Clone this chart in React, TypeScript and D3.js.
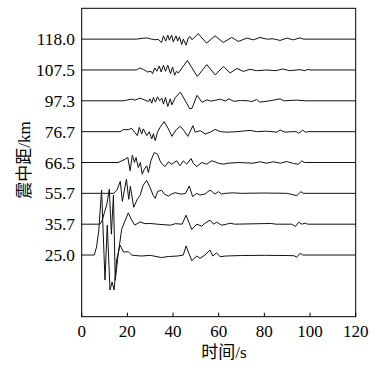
import React from "react";
import * as d3 from "d3";

// Epicentral distances (bottom to top), km
const distances = ["25.0", "35.7", "55.7", "66.5", "76.7", "97.3", "107.5", "118.0"];

// Waveforms: [time s, relative amplitude]
const trace250: [number, number][] = [[0,0],[5.5,0],[6.5,8],[7.5,25],[8.7,65],[10.2,-25],[11.2,30],[12.4,-35],[13.3,-27],[14.2,-35],[15.3,-5],[16.8,10],[18.3,3],[20.4,3.3],[21.9,0],[23.3,-0.5],[26.3,-1],[30,-0.3],[33,-1.7],[35,-2.5],[38,-1.5],[42,-1],[44.5,0],[45.7,9],[48.2,-5.7],[50.4,-1],[51.8,-3.3],[54,0],[56.2,5],[57.4,-1],[59.1,2.3],[60.6,-1.7],[63,-1],[70,-0.5],[80,-0.3],[90,-0.5],[93,-0.7],[94.2,-2.3],[95.6,1.7],[96.8,0],[120,0]];
const trace357: [number, number][] = [[0,0],[8,0],[9,4],[10,12],[11,20],[12.1,35],[13,-10],[13.9,29],[14.7,-56],[16,-30],[17.5,-5],[20.4,11.3],[21.9,4],[23.3,-1],[25.5,2.3],[27.7,0.5],[30,0.7],[33,0],[38.9,-1],[41,0.5],[44,0],[45.7,9],[48.2,-5.3],[50.4,0],[52.6,-2],[54,1],[56.2,4],[57.7,0],[59.1,2],[61.3,-1],[63.5,0],[65,1],[67,0],[83,0.7],[85,0],[92,0],[93.6,-2.3],[95,2],[96.4,0],[97.9,1],[99,0],[120,0]];
const trace557: [number, number][] = [[0,0],[14,0],[15.4,3],[16.9,12],[17.8,-8],[19.6,14],[20.6,-6],[21.3,7],[22.8,-14],[24.3,-6],[25.6,-2],[26.9,8],[28.4,13],[29.9,6],[31.3,-2],[32.2,-5],[33.3,2],[35,3],[36.3,-1],[38,-2.7],[39.5,-0.5],[41,0.7],[42.7,-0.5],[44,-0.7],[45.5,0],[47.1,7.3],[48.6,-3.3],[50.4,0],[51.8,-1.7],[54,-0.7],[56.2,3.3],[58.4,-0.7],[59.9,1.7],[61.3,-0.7],[63,0],[66,0.5],[70,0],[80,0.3],[90,0],[94.2,-2.3],[96,1.7],[97,0],[120,0]];
const trace665: [number, number][] = [[0,0],[15.9,0],[17.6,1.7],[19,3.3],[20.2,5],[21.2,-8.3],[22.2,7.3],[23.1,0],[23.8,5],[24.8,-5],[25.7,0],[26.5,-11.7],[27.4,-6.7],[28.5,-3.3],[29.2,-10],[30.3,1.7],[31.8,10],[33.2,8.3],[34.3,1.7],[35.3,-1.7],[36.5,-4],[38,0.7],[39.4,-1.7],[41.6,1.7],[43,-3.3],[44.5,1.7],[46,-1.7],[47.9,4],[48.9,-1],[50.4,-4],[52.6,0],[54.8,-1.7],[56.9,1.7],[58.4,0.7],[59.8,-0.7],[62,-1.7],[64.2,-0.7],[68.6,0],[75,-0.7],[78,0.7],[81,-0.7],[84,0.7],[87,-0.7],[89.8,1],[92.7,-1],[95,-1.7],[96.4,1.7],[97.5,0],[120,0]];
const trace767: [number, number][] = [[0,0],[16.8,0],[18.2,2],[20.4,2],[21.9,3.3],[23.3,-1],[24.4,-4],[25.2,4.3],[26.3,-2.3],[27,2.7],[28.5,-4],[29.6,0],[30.7,-7.3],[31.4,-2],[32.2,-9],[33.2,-0.5],[34.3,4.3],[36.1,10],[38,2.7],[39.5,-4.7],[41.4,2],[43.2,5.3],[45,0.5],[46.5,-4.7],[48.7,6],[49.7,-0.5],[51.9,1],[54.1,-2.3],[56.3,-0.5],[58.5,2.3],[60.7,0],[63.6,-0.5],[68,0],[73.7,1.3],[76.6,0],[81,0.5],[85.5,-0.5],[86.9,1.7],[89,-0.5],[92,0],[94,0],[95,-1.7],[96.8,1.5],[98,-0.5],[99.5,0],[120,0]];
const trace973: [number, number][] = [[0,0],[18.2,0],[19.7,0.7],[21.9,1.7],[23.3,0.7],[25.5,2.7],[27.7,0.7],[29.2,-0.7],[29.9,2],[30.7,-2.3],[31.4,3.3],[32.3,-1.3],[33.2,4],[34.1,0],[35.1,2.7],[35.8,-3.3],[36.7,3.3],[37.7,-5.7],[38.8,2],[39.5,-4],[41,3.3],[43.2,8.7],[45.4,0],[47.3,-8],[48.3,-7.5],[50.5,5.5],[52.7,-1.5],[54.9,1],[56.5,-0.3],[58.5,0.5],[60.7,1.7],[62.9,-0.3],[64.4,2],[66.6,-0.5],[69.5,0.3],[73,0],[74.5,-0.8],[76.6,1.3],[78,-1.3],[82.5,0],[86.9,2],[88.5,0],[94,0.7],[98,0],[120,0]];
const trace1075: [number, number][] = [[0,0],[24,0],[25.5,2],[27,0.5],[28.9,-2],[30.4,-1.3],[31,-3.7],[32,2],[32.9,-1.3],[34,4],[34.8,-2],[35.8,4.7],[36.7,-1.3],[37.7,4.7],[38.9,-3.7],[39.8,3],[40.7,-5.3],[41.5,-1.3],[42.3,-3],[46.3,9.5],[50.6,-6.5],[54.8,5.3],[58.5,-5],[62,3.5],[65,-3],[68,1.5],[70.8,-1.5],[73.7,0.7],[76.6,-0.7],[81,0],[85,-0.7],[88,1],[91,-0.7],[95.6,0.3],[97.7,-0.7],[99.2,0.7],[100,0],[120,0]];
const trace1180: [number, number][] = [[0,0],[24,0],[26.5,0.8],[28.5,1.2],[30.5,0],[32,-0.6],[33.5,-0.3],[35,-3.3],[35.8,3.3],[36.8,-2],[37.7,4],[38.4,-1],[39.4,4],[40.1,-2.7],[41.3,3.3],[42,-2],[42.8,2.3],[43.8,-5.3],[44.5,0],[45.7,-6],[46.7,1.3],[47.5,2.5],[48.3,-0.7],[51,5.5],[54.7,-4],[58.4,3.3],[62,-3.3],[65.7,1.7],[68.6,-2.3],[72.3,1],[75.2,-0.7],[78.1,1.7],[81,0],[83.9,0.3],[86.9,-1.3],[89.8,1],[92.7,-0.7],[95.6,1.3],[97,0],[120,0]];

const traces = [trace250, trace357, trace557, trace665, trace767, trace973, trace1075, trace1180];

const xTicks = [0, 20, 40, 60, 80, 100, 120];
const xTitle = "时间/s";
const yTitle = "震中距/km";

const W = 381, H = 377;
const left = 81.7, right = 355.7, top = 8.3, bottom = 316.7;
const serif = "Liberation Serif, DejaVu Serif, Times New Roman, serif";
const cjk = "Liberation Serif, Noto Sans CJK SC, serif";

export default function App() {
  const x = d3.scaleLinear().domain([0, 120]).range([left, right]);
  const slot = d3.scaleLinear().domain([-2, 8]).range([bottom, top]);
  const amp = d3.scaleLinear().domain([-100, 100]).range([100, -100]);

  return (
    <svg width={W} height={H} style={{ position: "absolute", left: 0, top: 0, background: "#fff" }}>
      <rect x={0} y={0} width={W} height={H} fill="#fff" />
      {traces.map((tr, i) => {
        const line = d3
          .line<[number, number]>()
          .x((d) => x(d[0]))
          .y((d) => slot(i) + amp(d[1]));
        return <path key={i} d={line(tr) || ""} fill="none" stroke="#111" strokeWidth={1} strokeLinejoin="round" />;
      })}
      <rect x={left} y={top} width={right - left} height={bottom - top} fill="none" stroke="#000" strokeWidth={1} />
      {xTicks.map((t) => (
        <g key={t}>
          <line x1={x(t)} x2={x(t)} y1={bottom} y2={bottom - 4} stroke="#000" strokeWidth={1} />
          <text x={x(t)} y={336.5} textAnchor="middle" style={{ fontFamily: serif, fontSize: 17 }} fill="#000">
            {t}
          </text>
        </g>
      ))}
      {distances.map((d, i) => (
        <text key={d} x={75} y={slot(i) + 6} textAnchor="end" style={{ fontFamily: serif, fontSize: 17.3 }} fill="#000">
          {d}
        </text>
      ))}
      <text x={224} y={358} textAnchor="middle" style={{ fontFamily: cjk, fontSize: 17 }} fill="#000">
        {xTitle}
      </text>
      <text
        transform={`translate(30,160) rotate(-90)`}
        textAnchor="middle"
        style={{ fontFamily: cjk, fontSize: 17 }}
        fill="#000"
      >
        {yTitle}
      </text>
    </svg>
  );
}
